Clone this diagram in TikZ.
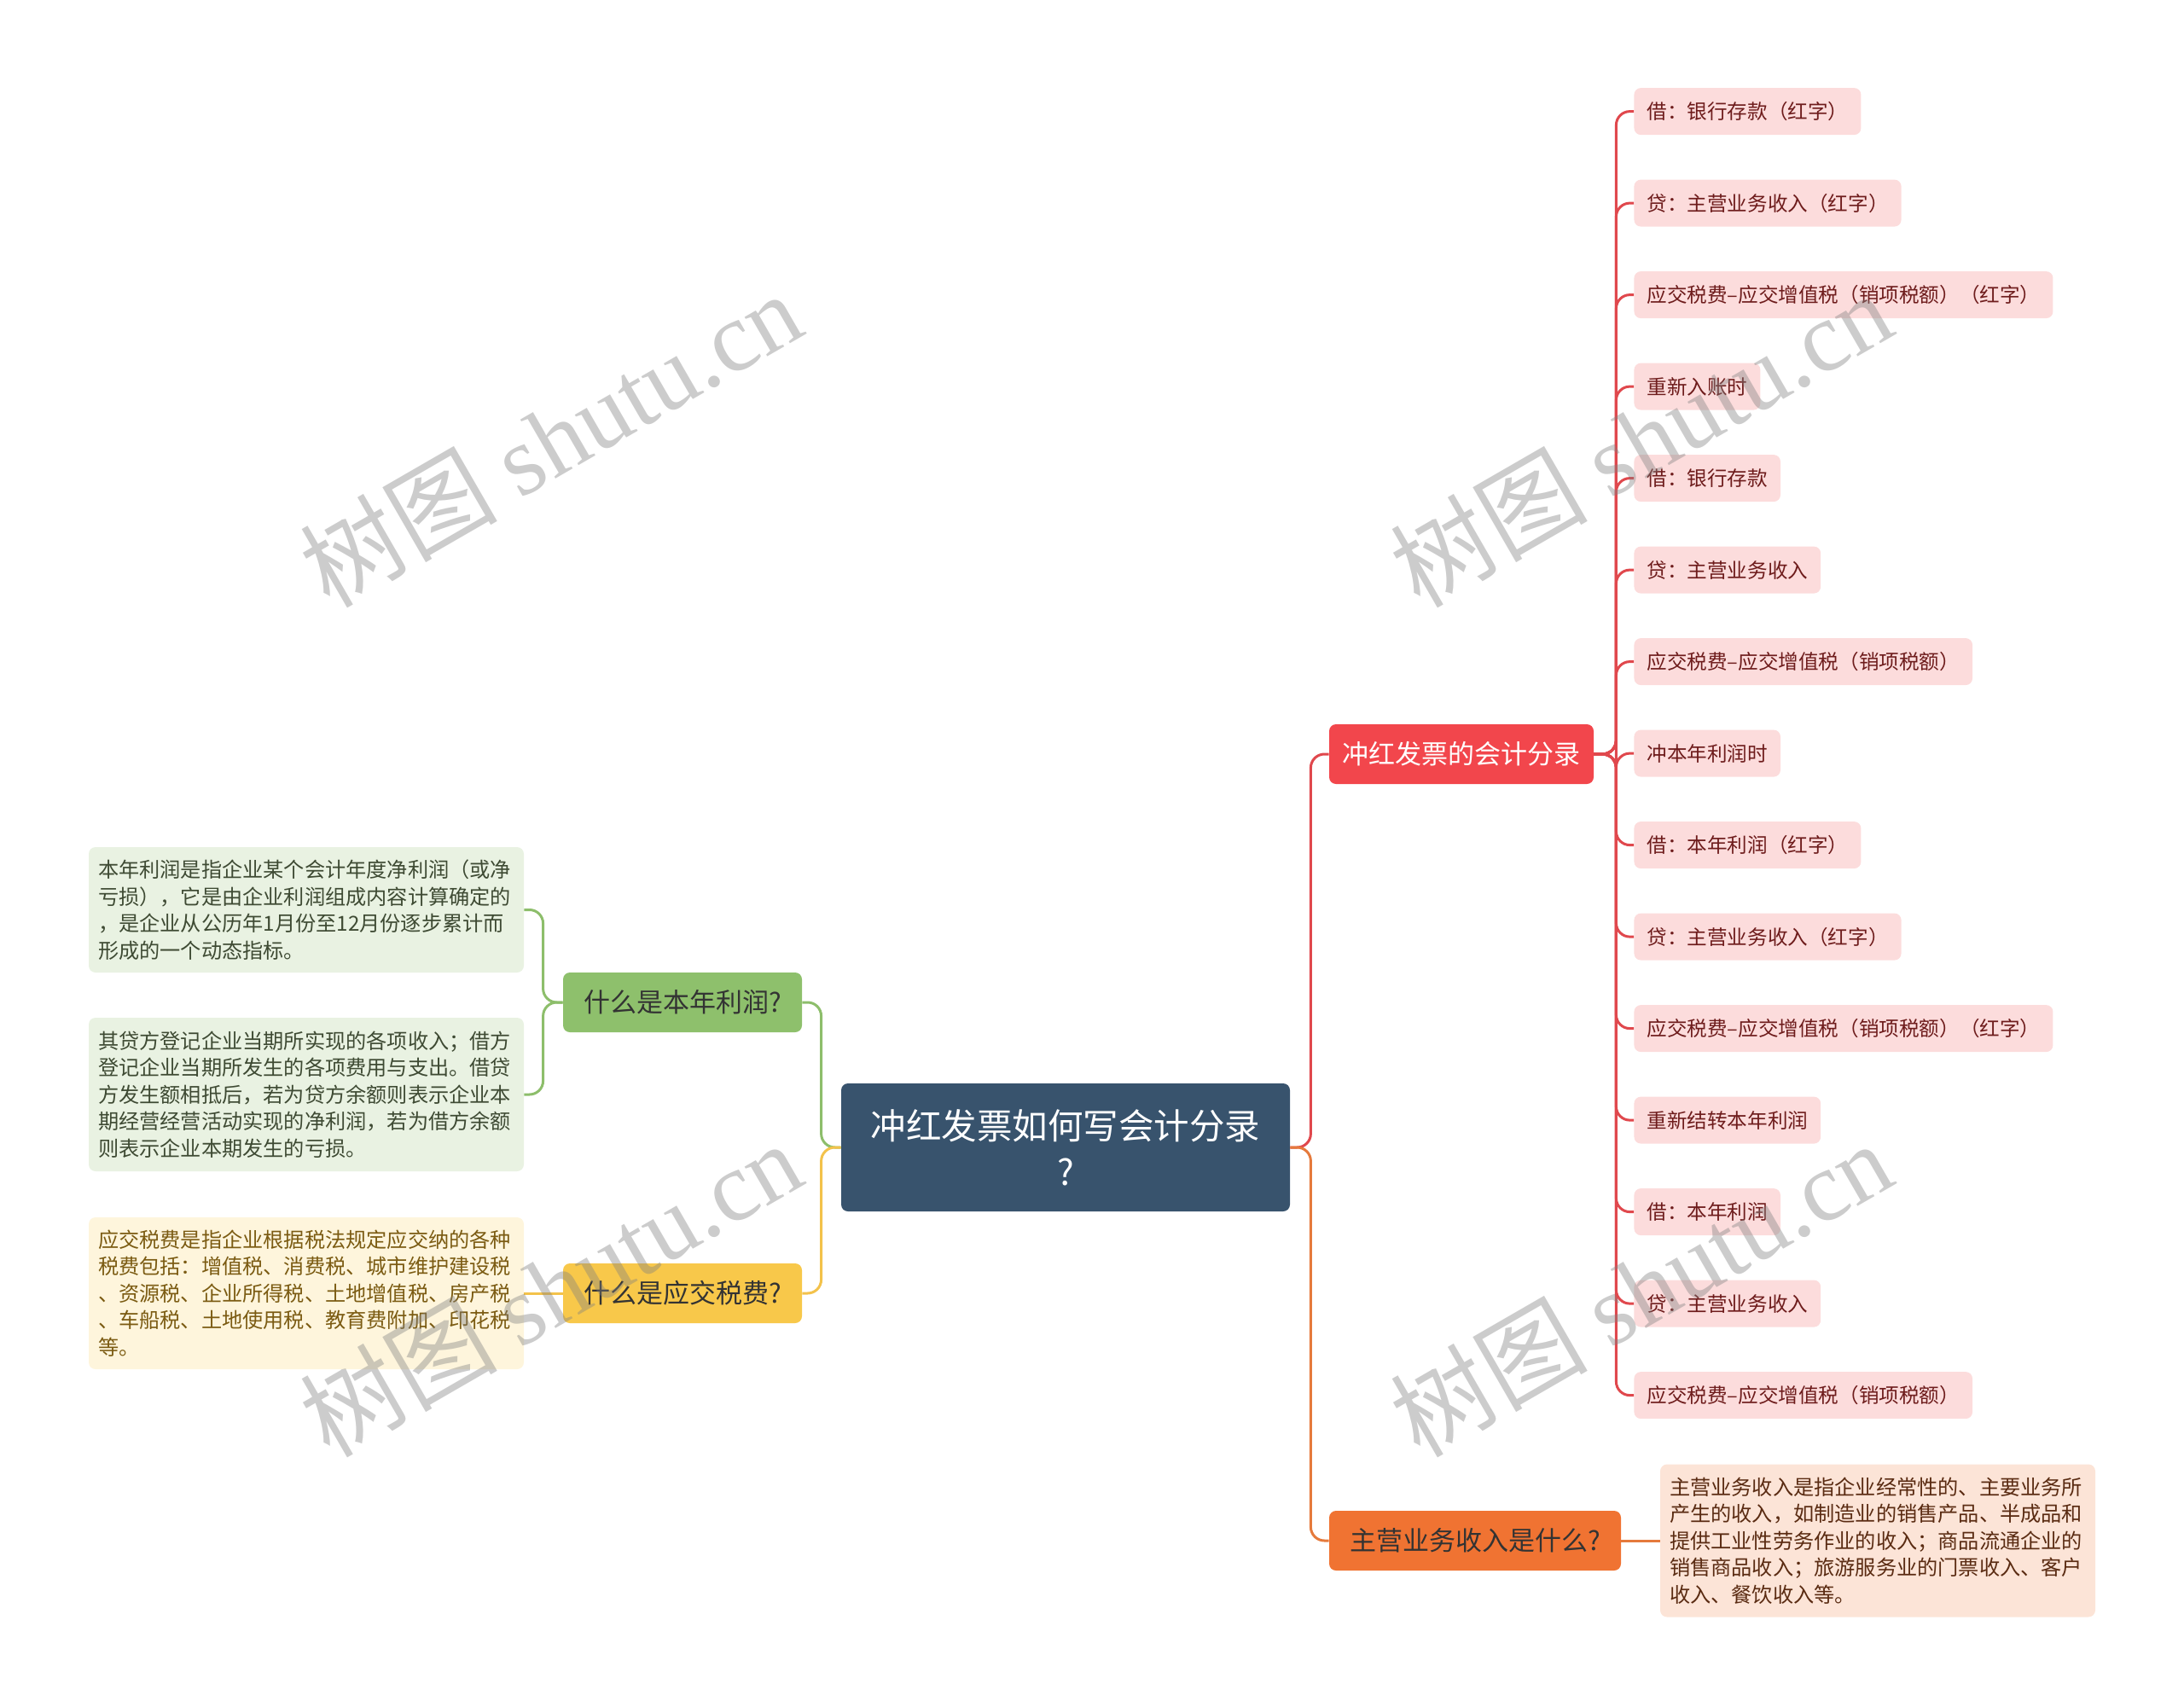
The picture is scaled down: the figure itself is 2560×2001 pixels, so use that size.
\documentclass[tikz,border=0pt]{standalone}
\usepackage{fontspec}
\setmainfont{Noto Sans CJK SC}
\newfontfamily\wmlatin{Liberation Serif}
\definecolor{rootblue}{HTML}{38536D}
\definecolor{bred}{HTML}{F2464C}
\definecolor{borange}{HTML}{F07332}
\definecolor{bgreen}{HTML}{8EC06C}
\definecolor{byellow}{HTML}{F8C84A}
\definecolor{leafpink}{HTML}{FCDCDC}
\definecolor{leaftext}{HTML}{6E1C1C}
\definecolor{greenbg}{HTML}{E9F2E2}
\definecolor{greentext}{HTML}{3E4A33}
\definecolor{yellowbg}{HTML}{FEF5DC}
\definecolor{yellowtext}{HTML}{7B5B12}
\definecolor{orangebg}{HTML}{FCE4D7}
\definecolor{orangetext}{HTML}{5A2B12}
\definecolor{lred}{HTML}{E0484D}
\definecolor{lorange}{HTML}{E57A3C}
\definecolor{lgreen}{HTML}{8DBE6B}
\definecolor{lyellow}{HTML}{F3C24B}
\tikzset{
  rootbox/.style={fill=rootblue, rounded corners=4pt, text=white,
    font=\fontsize{20.75}{27}\selectfont, minimum width=263pt,
    minimum height=75pt, align=center, inner sep=0pt},
  mainbox/.style={rounded corners=4pt, font=\fontsize{15.5}{18}\selectfont,
    minimum height=35pt, inner sep=0pt},
  leafbox/.style={fill=leafpink, rounded corners=4pt, text=leaftext,
    font=\fontsize{11.8}{14}\selectfont, minimum height=27.5pt,
    inner xsep=7.5pt, inner ysep=0pt, anchor=west},
  descbox/.style={rounded corners=4pt, font=\fontsize{12.1}{15.75}\selectfont,
    text width=244pt, inner xsep=5.5pt, inner ysep=0pt, align=left},
  conn/.style={line width=1.5pt, rounded corners=8pt},
  wm/.style={text=gray, opacity=0.4, font=\fontsize{58}{60}\selectfont, rotate=30}
}
\begin{document}
\begin{tikzpicture}[x=0.5pt,y=-0.5pt]
\useasboundingbox (0,0) rectangle (2560,2001);
% root
\node[rootbox] (root) at (1249,1345) {冲红发票如何写会计分录\\?};
% main branches
\node[mainbox, fill=bred, text=white, minimum width=155pt] (b1) at (1713,884) {冲红发票的会计分录};
\node[mainbox, fill=borange, text=black!80, minimum width=171pt] (b2) at (1729,1806) {主营业务收入是什么?\hspace{4pt}};
\node[mainbox, fill=bgreen, text=black!80, minimum width=140pt] (g) at (800,1175) {什么是本年利润?\hspace{4pt}};
\node[mainbox, fill=byellow, text=black!80, minimum width=140pt] (y) at (800,1516) {什么是应交税费?\hspace{4pt}};
% descriptions
\node[descbox, fill=greenbg, text=greentext, minimum height=73.5pt] (gd1) at (359,1066.5) {本年利润是指企业某个会计年度净利润（或净\\亏损），它是由企业利润组成内容计算确定的\\，是企业从公历年1月份至12月份逐步累计而\\形成的一个动态指标。};
\node[descbox, fill=greenbg, text=greentext, minimum height=90pt] (gd2) at (359,1283) {其贷方登记企业当期所实现的各项收入；借方\\登记企业当期所发生的各项费用与支出。借贷\\方发生额相抵后，若为贷方余额则表示企业本\\期经营经营活动实现的净利润，若为借方余额\\则表示企业本期发生的亏损。};
\node[descbox, fill=yellowbg, text=yellowtext, minimum height=89pt] (yd) at (359,1516) {应交税费是指企业根据税法规定应交纳的各种\\税费包括：增值税、消费税、城市维护建设税\\、资源税、企业所得税、土地增值税、房产税\\、车船税、土地使用税、教育费附加、印花税\\等。};
\node[descbox, fill=orangebg, text=orangetext, minimum height=89.5pt] (od) at (2201,1806) {主营业务收入是指企业经常性的、主要业务所\\产生的收入，如制造业的销售产品、半成品和\\提供工业性劳务作业的收入；商品流通企业的\\销售商品收入；旅游服务业的门票收入、客户\\收入、餐饮收入等。};
% leaves
\node[leafbox] (l1) at (1915,130.6) {借：银行存款（红字）};
\node[leafbox] (l2) at (1915,238.1) {贷：主营业务收入（红字）};
\node[leafbox] (l3) at (1915,345.6) {应交税费–应交增值税（销项税额）（红字）};
\node[leafbox] (l4) at (1915,453.1) {重新入账时};
\node[leafbox] (l5) at (1915,560.6) {借：银行存款};
\node[leafbox] (l6) at (1915,668.1) {贷：主营业务收入};
\node[leafbox] (l7) at (1915,775.6) {应交税费–应交增值税（销项税额）};
\node[leafbox] (l8) at (1915,883.1) {冲本年利润时};
\node[leafbox] (l9) at (1915,990.6) {借：本年利润（红字）};
\node[leafbox] (l10) at (1915,1098.1) {贷：主营业务收入（红字）};
\node[leafbox] (l11) at (1915,1205.6) {应交税费–应交增值税（销项税额）（红字）};
\node[leafbox] (l12) at (1915,1313.1) {重新结转本年利润};
\node[leafbox] (l13) at (1915,1420.6) {借：本年利润};
\node[leafbox] (l14) at (1915,1528.1) {贷：主营业务收入};
\node[leafbox] (l15) at (1915,1635.6) {应交税费–应交增值税（销项税额）};
% connectors
\draw[conn, lred] (root.east) -- ++(24,0) |- (b1.west);
\draw[conn, lorange] (root.east) -- ++(24,0) |- (b2.west);
\draw[conn, lgreen] (root.west) -- ++(-23,0) |- (g.east);
\draw[conn, lyellow] (root.west) -- ++(-23,0) |- (y.east);
\foreach \i in {1,...,15} {
  \draw[conn, lred] (b1.east) -- ++(26,0) |- (l\i.west);
}
\draw[conn, lgreen] (g.west) -- ++(-23,0) |- (gd1.east);
\draw[conn, lgreen] (g.west) -- ++(-23,0) |- (gd2.east);
\draw[conn, lyellow] (y.west) -- (yd.east);
\draw[conn, lorange] (b2.east) -- (od.west);
% watermarks
\node[wm] (w1) at (645,514) {树图 {\wmlatin shutu.cn}};
\node[wm] (w2) at (1923,514) {树图 {\wmlatin shutu.cn}};
\node[wm] (w3) at (645,1510) {树图 {\wmlatin shutu.cn}};
\node[wm] (w4) at (1923,1510) {树图 {\wmlatin shutu.cn}};
\end{tikzpicture}
\end{document}
